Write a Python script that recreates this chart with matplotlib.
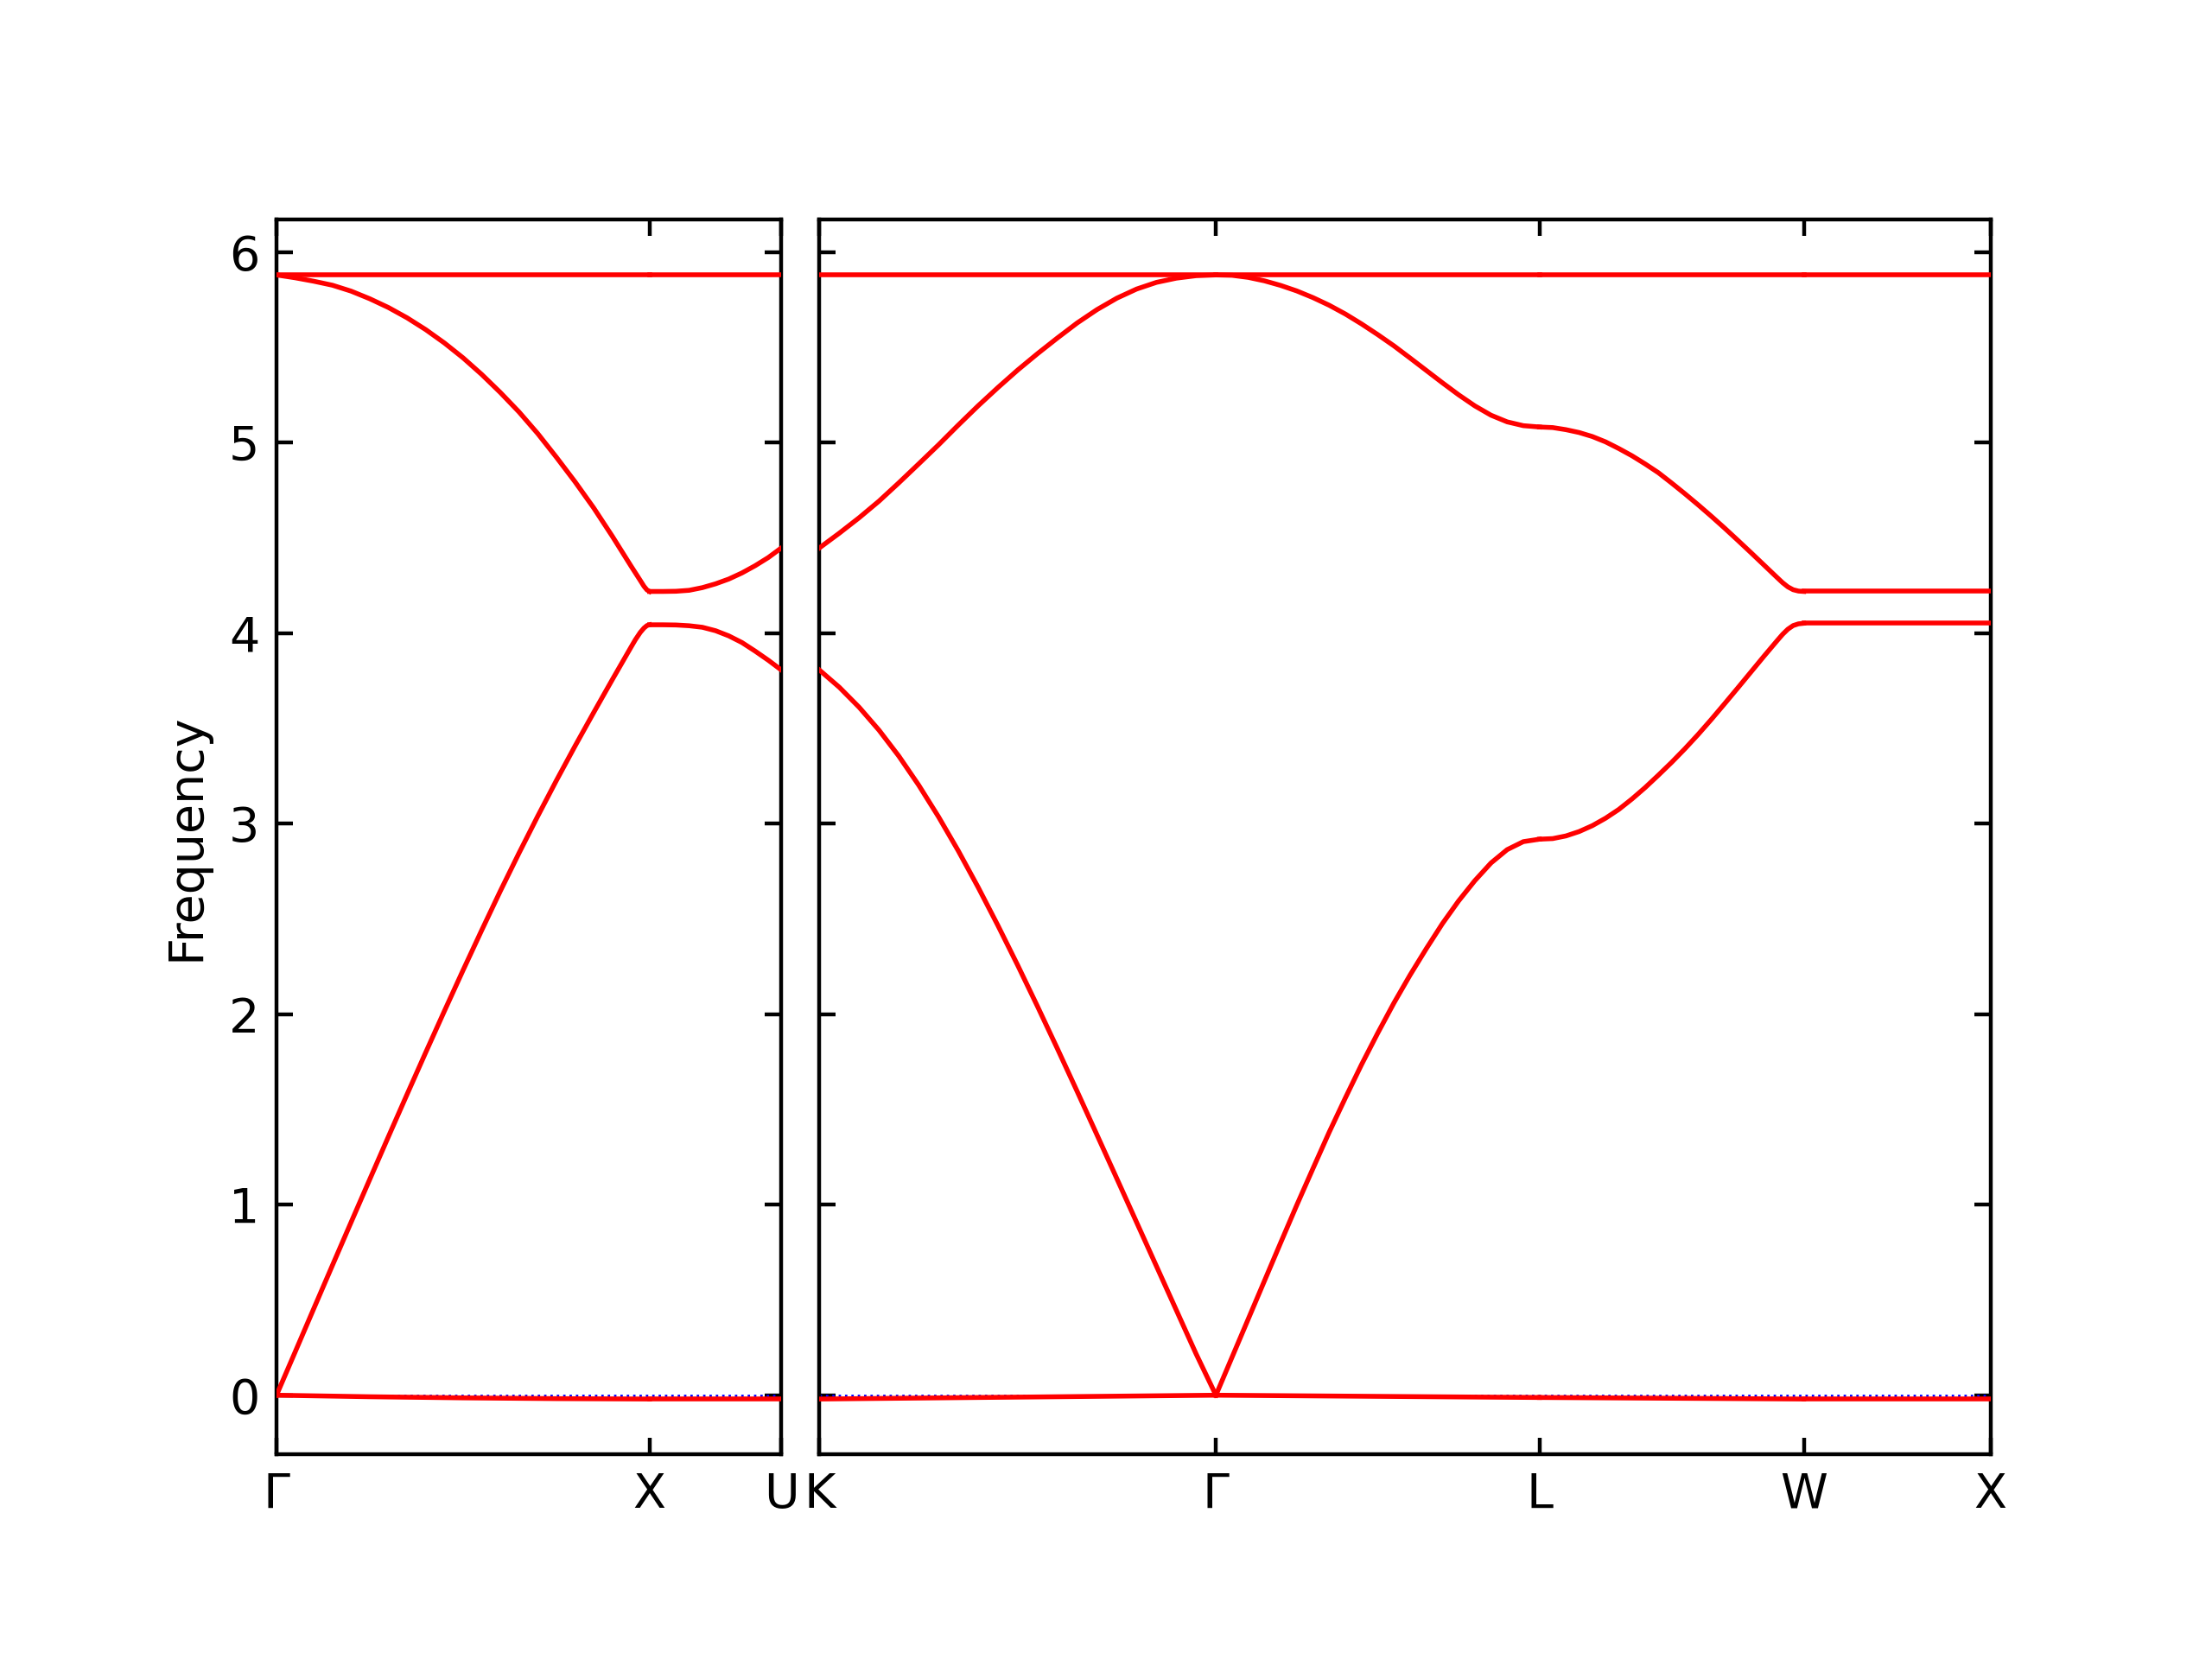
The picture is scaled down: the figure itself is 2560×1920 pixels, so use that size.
import matplotlib
matplotlib.use("Agg")
import matplotlib.pyplot as plt
import numpy as np

# ---------------- data ----------------
# path segment lengths (reciprocal-space distance, 2*pi/a units)
seg_GX, seg_XU, seg_KG, seg_GL, seg_LW, seg_WX = 1.0, 0.3536, 1.0607, 0.8660, 0.7071, 0.5
left_labels = ["Γ", "X", "U"]
right_labels = ["K", "Γ", "L", "W", "X"]
yticks = [0, 1, 2, 3, 4, 5, 6]

# fractional positions along a segment where values were read
t21 = [0, 0.05, 0.1, 0.15, 0.2, 0.25, 0.3, 0.35, 0.4, 0.45, 0.5,
       0.55, 0.6, 0.65, 0.7, 0.75, 0.8, 0.85, 0.9, 0.95, 1]
t11 = [0, 0.1, 0.2, 0.3, 0.4, 0.5, 0.6, 0.7, 0.8, 0.9, 1]

# flat optical band (all segments)
flat_band = 5.879

# --- Γ -> X ---
gx_t_up = [0, 0.05, 0.1, 0.15, 0.2, 0.25, 0.3, 0.35, 0.4, 0.45, 0.5, 0.55, 0.6,
           0.65, 0.7, 0.75, 0.8, 0.85, 0.9, 0.95, 0.975, 0.985, 0.993, 1]
gx_up = [5.879, 5.864, 5.846, 5.825, 5.794, 5.754, 5.708, 5.654, 5.592, 5.522, 5.444,
         5.357, 5.262, 5.160, 5.047, 4.923, 4.794, 4.657, 4.508, 4.352, 4.276, 4.245,
         4.226, 4.218]
gx_t_lo = [0, 0.05, 0.1, 0.15, 0.2, 0.25, 0.3, 0.35, 0.4, 0.45, 0.5, 0.55, 0.6,
           0.65, 0.7, 0.75, 0.8, 0.85, 0.9, 0.95, 0.962, 0.975, 0.985, 0.993, 1]
gx_lo = [0, 0.227, 0.455, 0.682, 0.908, 1.133, 1.357, 1.579, 1.799, 2.016, 2.230,
         2.440, 2.646, 2.845, 3.038, 3.225, 3.406, 3.582, 3.755, 3.925, 3.965, 4.003,
         4.026, 4.039, 4.043]
gx_t_ac = [0, 0.25, 0.5, 0.75, 1]
gx_ac = [0, -0.008, -0.014, -0.018, -0.02]

# --- X -> U ---
xu_up = [4.218, 4.218, 4.219, 4.224, 4.238, 4.258, 4.283, 4.315, 4.353, 4.396, 4.447]
xu_lo = [4.043, 4.043, 4.042, 4.038, 4.03, 4.012, 3.985, 3.95, 3.905, 3.857, 3.805]
xu_t_ac = [0, 1]
xu_ac = [-0.02, -0.02]

# --- K -> Γ ---
kg_up = [4.447, 4.524, 4.605, 4.692, 4.788, 4.887, 4.987, 5.091, 5.192, 5.288, 5.380,
         5.466, 5.548, 5.627, 5.697, 5.757, 5.805, 5.840, 5.862, 5.875, 5.879]
kg_lo = [3.805, 3.715, 3.610, 3.490, 3.354, 3.202, 3.036, 2.857, 2.666, 2.465, 2.256,
         2.040, 1.819, 1.594, 1.366, 1.137, 0.907, 0.677, 0.447, 0.217, 0]
kg_t_ac = [0, 0.25, 0.5, 0.75, 1]
kg_ac = [-0.02, -0.015, -0.01, -0.005, 0]

# --- Γ -> L ---
gl_up = [5.879, 5.877, 5.866, 5.848, 5.824, 5.795, 5.760, 5.720, 5.674, 5.622, 5.566,
         5.507, 5.443, 5.378, 5.313, 5.250, 5.192, 5.143, 5.108, 5.088, 5.081]
gl_lo = [0, 0.20, 0.40, 0.60, 0.80, 0.998, 1.19, 1.38, 1.56, 1.735, 1.90,
         2.058, 2.205, 2.343, 2.475, 2.594, 2.70, 2.793, 2.863, 2.905, 2.918]
gl_t_ac = [0, 0.5, 1]
gl_ac = [0, -0.006, -0.012]

# --- L -> W ---
lw_t_up = [0, 0.05, 0.1, 0.15, 0.2, 0.25, 0.3, 0.35, 0.4, 0.45, 0.5, 0.55, 0.6,
           0.65, 0.7, 0.75, 0.8, 0.85, 0.9, 0.92, 0.94, 0.96, 0.98, 1]
lw_up = [5.081, 5.078, 5.067, 5.052, 5.031, 5.003, 4.968, 4.930, 4.887, 4.841, 4.787,
         4.731, 4.673, 4.613, 4.551, 4.487, 4.422, 4.356, 4.290, 4.264, 4.242, 4.227,
         4.220, 4.218]
lw_t_lo = [0, 0.05, 0.1, 0.15, 0.2, 0.25, 0.3, 0.35, 0.4, 0.45, 0.5, 0.55, 0.6,
           0.65, 0.7, 0.75, 0.8, 0.85, 0.9, 0.92, 0.94, 0.96, 0.98, 1]
lw_lo = [2.918, 2.921, 2.935, 2.958, 2.989, 3.028, 3.074, 3.129, 3.189, 3.254, 3.321,
         3.392, 3.467, 3.546, 3.628, 3.711, 3.795, 3.879, 3.961, 3.993, 4.020, 4.039,
         4.048, 4.051]
lw_t_ac = [0, 1]
lw_ac = [-0.012, -0.02]

# --- W -> X ---
wx_t = [0, 1]
wx_up = [4.218, 4.218]
wx_lo = [4.051, 4.051]
wx_ac = [-0.02, -0.02]

# ---------------- figure ----------------
fig = plt.figure(figsize=(6.4, 4.8), dpi=400)
ax1 = fig.add_axes([0.125, 0.1234, 0.2283, 0.7443])
ax2 = fig.add_axes([0.3705, 0.1234, 0.5294, 0.7443])

RED = "#ff0000"
LW = 1.0


def draw_segment(ax, k0, length, tlist, vlist):
    k = k0 + np.asarray(tlist) * length
    ax.plot(k, vlist, color=RED, lw=LW, zorder=3, solid_joinstyle="round")


def draw_flat(ax, k0, length):
    ax.plot([k0, k0 + length], [flat_band, flat_band], color=RED, lw=LW, zorder=3)


# left panel: Γ - X - U
k_G1 = 0.0
k_X1 = k_G1 + seg_GX
k_U = k_X1 + seg_XU
for t, v in [(gx_t_up, gx_up), (gx_t_lo, gx_lo), (gx_t_ac, gx_ac)]:
    draw_segment(ax1, k_G1, seg_GX, t, v)
for t, v in [(t11, xu_up), (t11, xu_lo), (xu_t_ac, xu_ac)]:
    draw_segment(ax1, k_X1, seg_XU, t, v)
draw_flat(ax1, k_G1, seg_GX)
draw_flat(ax1, k_X1, seg_XU)

# right panel: K - Γ - L - W - X
k_K = k_U
k_G2 = k_K + seg_KG
k_L = k_G2 + seg_GL
k_W = k_L + seg_LW
k_X2 = k_W + seg_WX
for k0, ln, sets in [
    (k_K, seg_KG, [(t21, kg_up), (t21, kg_lo), (kg_t_ac, kg_ac)]),
    (k_G2, seg_GL, [(t21, gl_up), (t21, gl_lo), (gl_t_ac, gl_ac)]),
    (k_L, seg_LW, [(lw_t_up, lw_up), (lw_t_lo, lw_lo), (lw_t_ac, lw_ac)]),
    (k_W, seg_WX, [(wx_t, wx_up), (wx_t, wx_lo), (wx_t, wx_ac)]),
]:
    for t, v in sets:
        draw_segment(ax2, k0, ln, t, v)
    draw_flat(ax2, k0, ln)

for ax in (ax1, ax2):
    ax.axhline(0, color="b", linestyle=":", linewidth=0.5, zorder=2)
    ax.set_ylim(-0.31, 6.17)
    ax.set_yticks(yticks)
    ax.tick_params(direction="in", top=True, right=True, labelsize=10)
    for s in ax.spines.values():
        s.set_linewidth(0.8)

ax1.set_xlim(k_G1, k_U)
ax1.set_xticks([k_G1, k_X1, k_U])
ax1.set_xticklabels(left_labels)
ax1.set_ylabel("Frequency")

ax2.set_xlim(k_K, k_X2)
ax2.set_xticks([k_K, k_G2, k_L, k_W, k_X2])
ax2.set_xticklabels(right_labels)
ax2.tick_params(labelleft=False)

fig.savefig("out.png", dpi=400)
